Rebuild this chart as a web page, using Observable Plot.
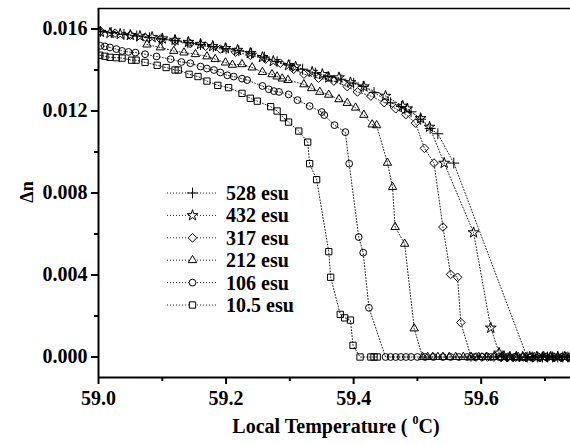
<!DOCTYPE html>
<html><head><meta charset="utf-8">
<script src="https://cdn.jsdelivr.net/npm/d3@7"></script>
<script src="https://cdn.jsdelivr.net/npm/@observablehq/plot@0.6"></script>
</head><body style="margin:0;background:#fff"><div id="chart"></div>
<script>
// ---- data ----
const seriesLabels = ["528 esu","432 esu","317 esu","212 esu","106 esu","10.5 esu"];
const seriesSymbols = ["plus","star","diamond2","triangle2","circle","square2"];

const s528T = [59.003,59.02,59.04,59.06,59.08,59.10,59.12,59.14,59.16,59.18,59.20,59.22,59.24,59.26,59.28,59.30,59.32,59.34,59.36,59.38,59.40,59.415,59.432,59.458,59.475,59.49,59.505,59.52,59.532,59.557,59.672,59.680,59.688,59.696,59.704,59.712,59.720,59.728,59.736,59.744];
const s528N = [0.01588,0.01582,0.01574,0.01566,0.01558,0.01551,0.01543,0.01533,0.01524,0.01514,0.01504,0.01494,0.01482,0.01463,0.01441,0.01424,0.01404,0.01385,0.01368,0.01355,0.01336,0.01320,0.01290,0.01240,0.01222,0.01196,0.01160,0.01115,0.01089,0.00946,0,0,0,0,0,0,0,0,0,0];

const s432T = [59.003,59.018,59.034,59.050,59.065,59.084,59.100,59.120,59.141,59.160,59.179,59.199,59.218,59.238,59.257,59.274,59.298,59.309,59.335,59.351,59.361,59.377,59.395,59.416,59.450,59.477,59.484,59.505,59.519,59.542,59.588,59.615,59.628,59.636,59.645,59.655,59.665,59.676,59.687,59.698,59.709,59.720,59.731,59.742];
const s432N = [0.01585,0.01580,0.01575,0.01570,0.01565,0.01560,0.01553,0.01546,0.01536,0.01526,0.01516,0.01506,0.01497,0.01482,0.01462,0.01443,0.01423,0.01416,0.01390,0.01379,0.01363,0.01363,0.01339,0.01319,0.01273,0.01224,0.01211,0.01164,0.01122,0.00946,0.00607,0.00142,0.0002,0,0,0,0,0,0,0,0,0,0,0];

const s317T = [59.003,59.026,59.050,59.073,59.097,59.120,59.144,59.168,59.191,59.215,59.238,59.262,59.285,59.306,59.322,59.345,59.369,59.390,59.406,59.427,59.448,59.466,59.482,59.497,59.511,59.526,59.540,59.552,59.563,59.568,59.584,59.592,59.601,59.610,59.620,59.631,59.642,59.654,59.666,59.678,59.690,59.702,59.714,59.727,59.739];
const s317N = [0.01590,0.01580,0.01570,0.01560,0.01551,0.01541,0.01529,0.01516,0.01502,0.01487,0.01472,0.01453,0.01433,0.01404,0.01380,0.01360,0.01346,0.01319,0.01293,0.01273,0.01241,0.01211,0.01183,0.01141,0.01018,0.00946,0.00634,0.00403,0.00389,0.00168,0,0,0,0,0,0,0,0,0,0,0,0,0,0,0];

const s212T = [59.076,59.097,59.118,59.134,59.152,59.170,59.183,59.199,59.210,59.225,59.241,59.257,59.272,59.280,59.288,59.297,59.322,59.334,59.347,59.361,59.377,59.390,59.403,59.416,59.429,59.436,59.453,59.461,59.465,59.480,59.495,59.508,59.516,59.524,59.532,59.540,59.550,59.560,59.572,59.584,59.596,59.608,59.620,59.632,59.645,59.658,59.670,59.683,59.696,59.708,59.720,59.733];
const s212N = [0.01524,0.01510,0.01493,0.01485,0.01477,0.01466,0.01453,0.01436,0.01425,0.01428,0.01412,0.01390,0.01379,0.01368,0.01358,0.01351,0.01330,0.01311,0.01293,0.01279,0.01257,0.01239,0.01216,0.01181,0.01134,0.01130,0.00947,0.00829,0.00634,0.00552,0.00139,0,0,0,0,0,0,0,0,0,0,0,0,0,0,0,0,0,0,0,0,0];

const s106T = [59.003,59.010,59.018,59.028,59.037,59.047,59.058,59.073,59.091,59.113,59.130,59.144,59.160,59.170,59.181,59.191,59.202,59.212,59.225,59.233,59.257,59.267,59.275,59.283,59.298,59.312,59.331,59.350,59.354,59.370,59.387,59.393,59.408,59.415,59.424,59.450,59.458,59.466,59.474,59.482,59.490,59.500,59.512,59.525,59.540,59.552,59.565,59.578,59.590,59.602,59.615,59.628,59.640,59.652,59.665,59.678,59.690,59.702,59.714,59.726,59.738];
const s106N = [0.01518,0.01515,0.01510,0.01502,0.01493,0.01488,0.01485,0.01477,0.01466,0.01453,0.01439,0.01433,0.01417,0.01407,0.01400,0.01388,0.01374,0.01368,0.01358,0.01351,0.01322,0.01306,0.01297,0.01293,0.01281,0.01253,0.01224,0.01195,0.01180,0.01131,0.01097,0.00943,0.00585,0.00509,0.00240,0,0,0,0,0,0,0,0,0,0,0,0,0,0,0,0,0,0,0,0,0,0,0,0,0,0];

const s105T = [59.002,59.010,59.018,59.028,59.037,59.052,59.059,59.073,59.092,59.106,59.120,59.125,59.142,59.156,59.170,59.187,59.204,59.225,59.238,59.249,59.270,59.280,59.290,59.298,59.314,59.328,59.331,59.342,59.361,59.364,59.379,59.386,59.395,59.399,59.410,59.427,59.432,59.437];
const s105N = [0.01472,0.01467,0.01462,0.01460,0.01458,0.01448,0.01448,0.01437,0.01423,0.01412,0.01400,0.01400,0.01379,0.01368,0.01346,0.01325,0.01314,0.01286,0.01262,0.01248,0.01221,0.01200,0.01167,0.01146,0.01102,0.01048,0.00943,0.00865,0.00514,0.00389,0.00208,0.00191,0.00180,0.00057,0,0,0,0];

const xTicks = [59.0, 59.2, 59.4, 59.6];
const xMinorTicks = [59.1, 59.3, 59.5, 59.7];
const yTicks = [0, 0.004, 0.008, 0.012, 0.016];
const yMinorTicks = [0.002, 0.006, 0.010, 0.014];
const xDomain = [59.0, 59.74];
const yDomain = [-0.001, 0.017];
const xTitle = "Local Temperature ( ";
const xTitleSup = "0";
const xTitleEnd = "C)";
const yTitle = "\u0394n";

// ---- build table ----
const seriesT = [s528T, s432T, s317T, s212T, s106T, s105T];
const seriesN = [s528N, s432N, s317N, s212N, s106N, s105N];
const rows = seriesLabels.flatMap((label, i) => seriesT[i].map((t, j) => ({series: label, t, dn: seriesN[i][j]})));
const symbolR = [3.6, 3.4, 3.9, 4.0, 3.4, 4.0];
const d3Symbols = {plus: d3.symbolPlus, star: d3.symbolStar, diamond2: d3.symbolDiamond2, triangle2: d3.symbolTriangle2, circle: d3.symbolCircle, square2: d3.symbolSquare2};

const font = "Liberation Serif";
const chart = Plot.plot({
  width: 570, height: 445,
  marginTop: 8, marginRight: 0, marginBottom: 68, marginLeft: 98,
  style: {fontFamily: font, fontSize: "20px", fontWeight: "bold"},
  x: {domain: xDomain},
  y: {domain: yDomain},
  marks: [
    Plot.line(rows, {x: "t", y: "dn", z: "series", stroke: "#222", strokeWidth: 1, strokeDasharray: "1,2", clip: true}),
    ...seriesLabels.map((label, i) => Plot.dot(rows.filter(d => d.series === label), {
      x: "t", y: "dn", symbol: seriesSymbols[i], r: symbolR[i], stroke: "#000", fill: "none", strokeWidth: 1, clip: true
    })),
    Plot.axisX({ticks: xTicks, tickFormat: d => d.toFixed(1), tickSize: 7, tickPadding: 6, strokeWidth: 2, label: null}),
    Plot.axisX({ticks: xMinorTicks, tickSize: 4, text: null, label: null, strokeWidth: 2}),
    Plot.axisY({ticks: yTicks, tickFormat: d => d.toFixed(3), tickSize: 7, tickPadding: 4, strokeWidth: 2, label: null}),
    Plot.axisY({ticks: yMinorTicks, tickSize: 4, text: null, label: null, strokeWidth: 2}),
    Plot.ruleY([yDomain[0]], {strokeWidth: 2}),
    Plot.ruleX([xDomain[0]], {strokeWidth: 2}),
    Plot.ruleY([yDomain[1]], {strokeWidth: 1.5})
  ]
});

const svg = d3.select(chart);
// axis titles
svg.append("text").attr("transform", "translate(33,192) rotate(-90)")
  .attr("text-anchor", "middle").attr("font-size", 18).attr("font-weight", "bold")
  .attr("font-family", font).text(yTitle);
const xt = svg.append("text").attr("x", 336).attr("y", 433).attr("text-anchor", "middle")
  .attr("font-size", 20).attr("font-weight", "bold").attr("font-family", font);
xt.append("tspan").text(xTitle);
xt.append("tspan").attr("font-size", 12).attr("dy", -9).text(xTitleSup);
xt.append("tspan").attr("dy", 9).text(xTitleEnd);

// legend
const lg = svg.append("g").attr("font-family", font).attr("font-weight", "bold").attr("font-size", 20).attr("text-anchor", "start");
seriesLabels.forEach((label, i) => {
  const cy = 193 + i * 22.4;
  const g = lg.append("g").attr("transform", `translate(0,${cy})`);
  g.append("line").attr("x1", 167).attr("x2", 218).attr("y1", 0).attr("y2", 0)
    .attr("stroke", "#222").attr("stroke-width", 1).attr("stroke-dasharray", "1,2");
  g.append("path").attr("transform", "translate(192.5,0)")
    .attr("d", d3.symbol(d3Symbols[seriesSymbols[i]], Math.PI * symbolR[i] * symbolR[i])())
    .attr("fill", "#fff").attr("stroke", "#000").attr("stroke-width", 1);
  g.append("text").attr("x", 226).attr("y", 7).attr("text-anchor", "start").text(label);
});
svg.selectAll("text").attr("font-family", font).style("font-family", font);

document.getElementById("chart").appendChild(chart);
</script>
</body></html>
